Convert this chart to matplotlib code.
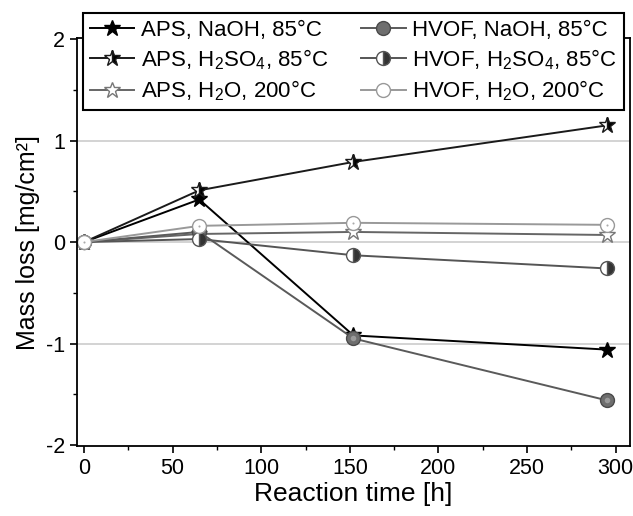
import matplotlib
matplotlib.use("Agg")
import matplotlib.pyplot as plt
from matplotlib.ticker import MultipleLocator

plt.rcParams['font.family'] = ['Liberation Sans', 'DejaVu Sans']
plt.rcParams['mathtext.fontset'] = 'custom'
plt.rcParams['mathtext.rm'] = 'Liberation Sans'
plt.rcParams['mathtext.it'] = 'Liberation Sans'
plt.rcParams['axes.unicode_minus'] = False

# ---- data ----
time_h = [0, 65, 152, 295]
aps_naoh = [0.0, 0.42, -0.92, -1.06]
aps_h2so4 = [0.0, 0.51, 0.79, 1.15]
aps_h2o = [0.0, 0.08, 0.10, 0.07]
hvof_naoh = [0.0, 0.10, -0.95, -1.56]
hvof_h2so4 = [0.0, 0.03, -0.13, -0.26]
hvof_h2o = [0.0, 0.16, 0.19, 0.17]

labels = ['APS, NaOH, 85°C', 'APS, H$_2$SO$_4$, 85°C', 'APS, H$_2$O, 200°C',
          'HVOF, NaOH, 85°C', 'HVOF, H$_2$SO$_4$, 85°C', 'HVOF, H$_2$O, 200°C']
x_ticks = [0, 50, 100, 150, 200, 250, 300]
y_ticks = [-2, -1, 0, 1, 2]

fig = plt.figure(figsize=(6.33, 5.16), dpi=100)
ax = fig.add_axes([0.1216, 0.1357, 0.8734, 0.7903])

for yv in [-1, 0, 1]:
    ax.axhline(yv, color='#cccccc', lw=1.2, zorder=0)

ms = 10
h1, = ax.plot(time_h, aps_naoh, color='black', lw=1.4, marker='*', ms=ms + 2,
              mfc='black', mec='black', label=labels[0], zorder=2)
h2, = ax.plot(time_h, aps_h2so4, color='#1a1a1a', lw=1.4, marker='*', ms=ms + 2,
              fillstyle='right', mfc='black', mfcalt='white', mec='#1a1a1a',
              label=labels[1], zorder=2.1)
h3, = ax.plot(time_h, aps_h2o, color='#666666', lw=1.4, marker='*', ms=ms + 2,
              mfc='white', mec='#777777', label=labels[2], zorder=2.2)
h4, = ax.plot(time_h, hvof_naoh, color='#5a5a5a', lw=1.4, marker='o', ms=ms,
              mfc='#6e6e6e', mec='#4a4a4a', label=labels[3], zorder=2.3)
ax.plot(time_h[1:], hvof_naoh[1:], ls='none', marker='o', ms=4,
        mfc='#9a9a9a', mec='none', zorder=2.31)
h5, = ax.plot(time_h, hvof_h2so4, color='#555555', lw=1.4, marker='o', ms=ms,
              fillstyle='right', mfc='#333333', mfcalt='white', mec='#555555',
              label=labels[4], zorder=2.4)
h6, = ax.plot(time_h, hvof_h2o, color='#999999', lw=1.4, marker='o', ms=ms,
              mfc='white', mec='#999999', label=labels[5], zorder=2.5)
ax.plot(time_h, hvof_h2o, ls='none', marker='o', ms=1.5,
        mfc='#aaaaaa', mec='none', zorder=2.51)

ax.set_xlim(-4, 308)
ax.set_ylim(-2.01, 2.01)
ax.set_xticks(x_ticks)
ax.set_yticks(y_ticks)
ax.xaxis.set_minor_locator(MultipleLocator(25))
ax.yaxis.set_minor_locator(MultipleLocator(0.5))
ax.tick_params(which='major', direction='out', length=5, width=1.2, labelsize=15.5)
ax.tick_params(which='minor', direction='out', length=3, width=1.0)
for s in ax.spines.values():
    s.set_linewidth(1.3)

ax.set_xlabel('Reaction time [h]', fontsize=19, labelpad=2)
ax.set_ylabel('Mass loss [mg/cm²]', fontsize=18, labelpad=4)

leg = fig.legend(handles=[h1, h2, h3, h4, h5, h6], ncol=2, loc='upper left',
                 bbox_to_anchor=(0.131, 0.975), fontsize=16, frameon=True,
                 fancybox=False, edgecolor='black', framealpha=1,
                 handlelength=2.0, handletextpad=0.3, columnspacing=1.5,
                 labelspacing=0.3, borderpad=0.3, borderaxespad=0)
leg.get_frame().set_linewidth(1.5)
leg.set_zorder(10)

fig.savefig('out.png', dpi=100)
